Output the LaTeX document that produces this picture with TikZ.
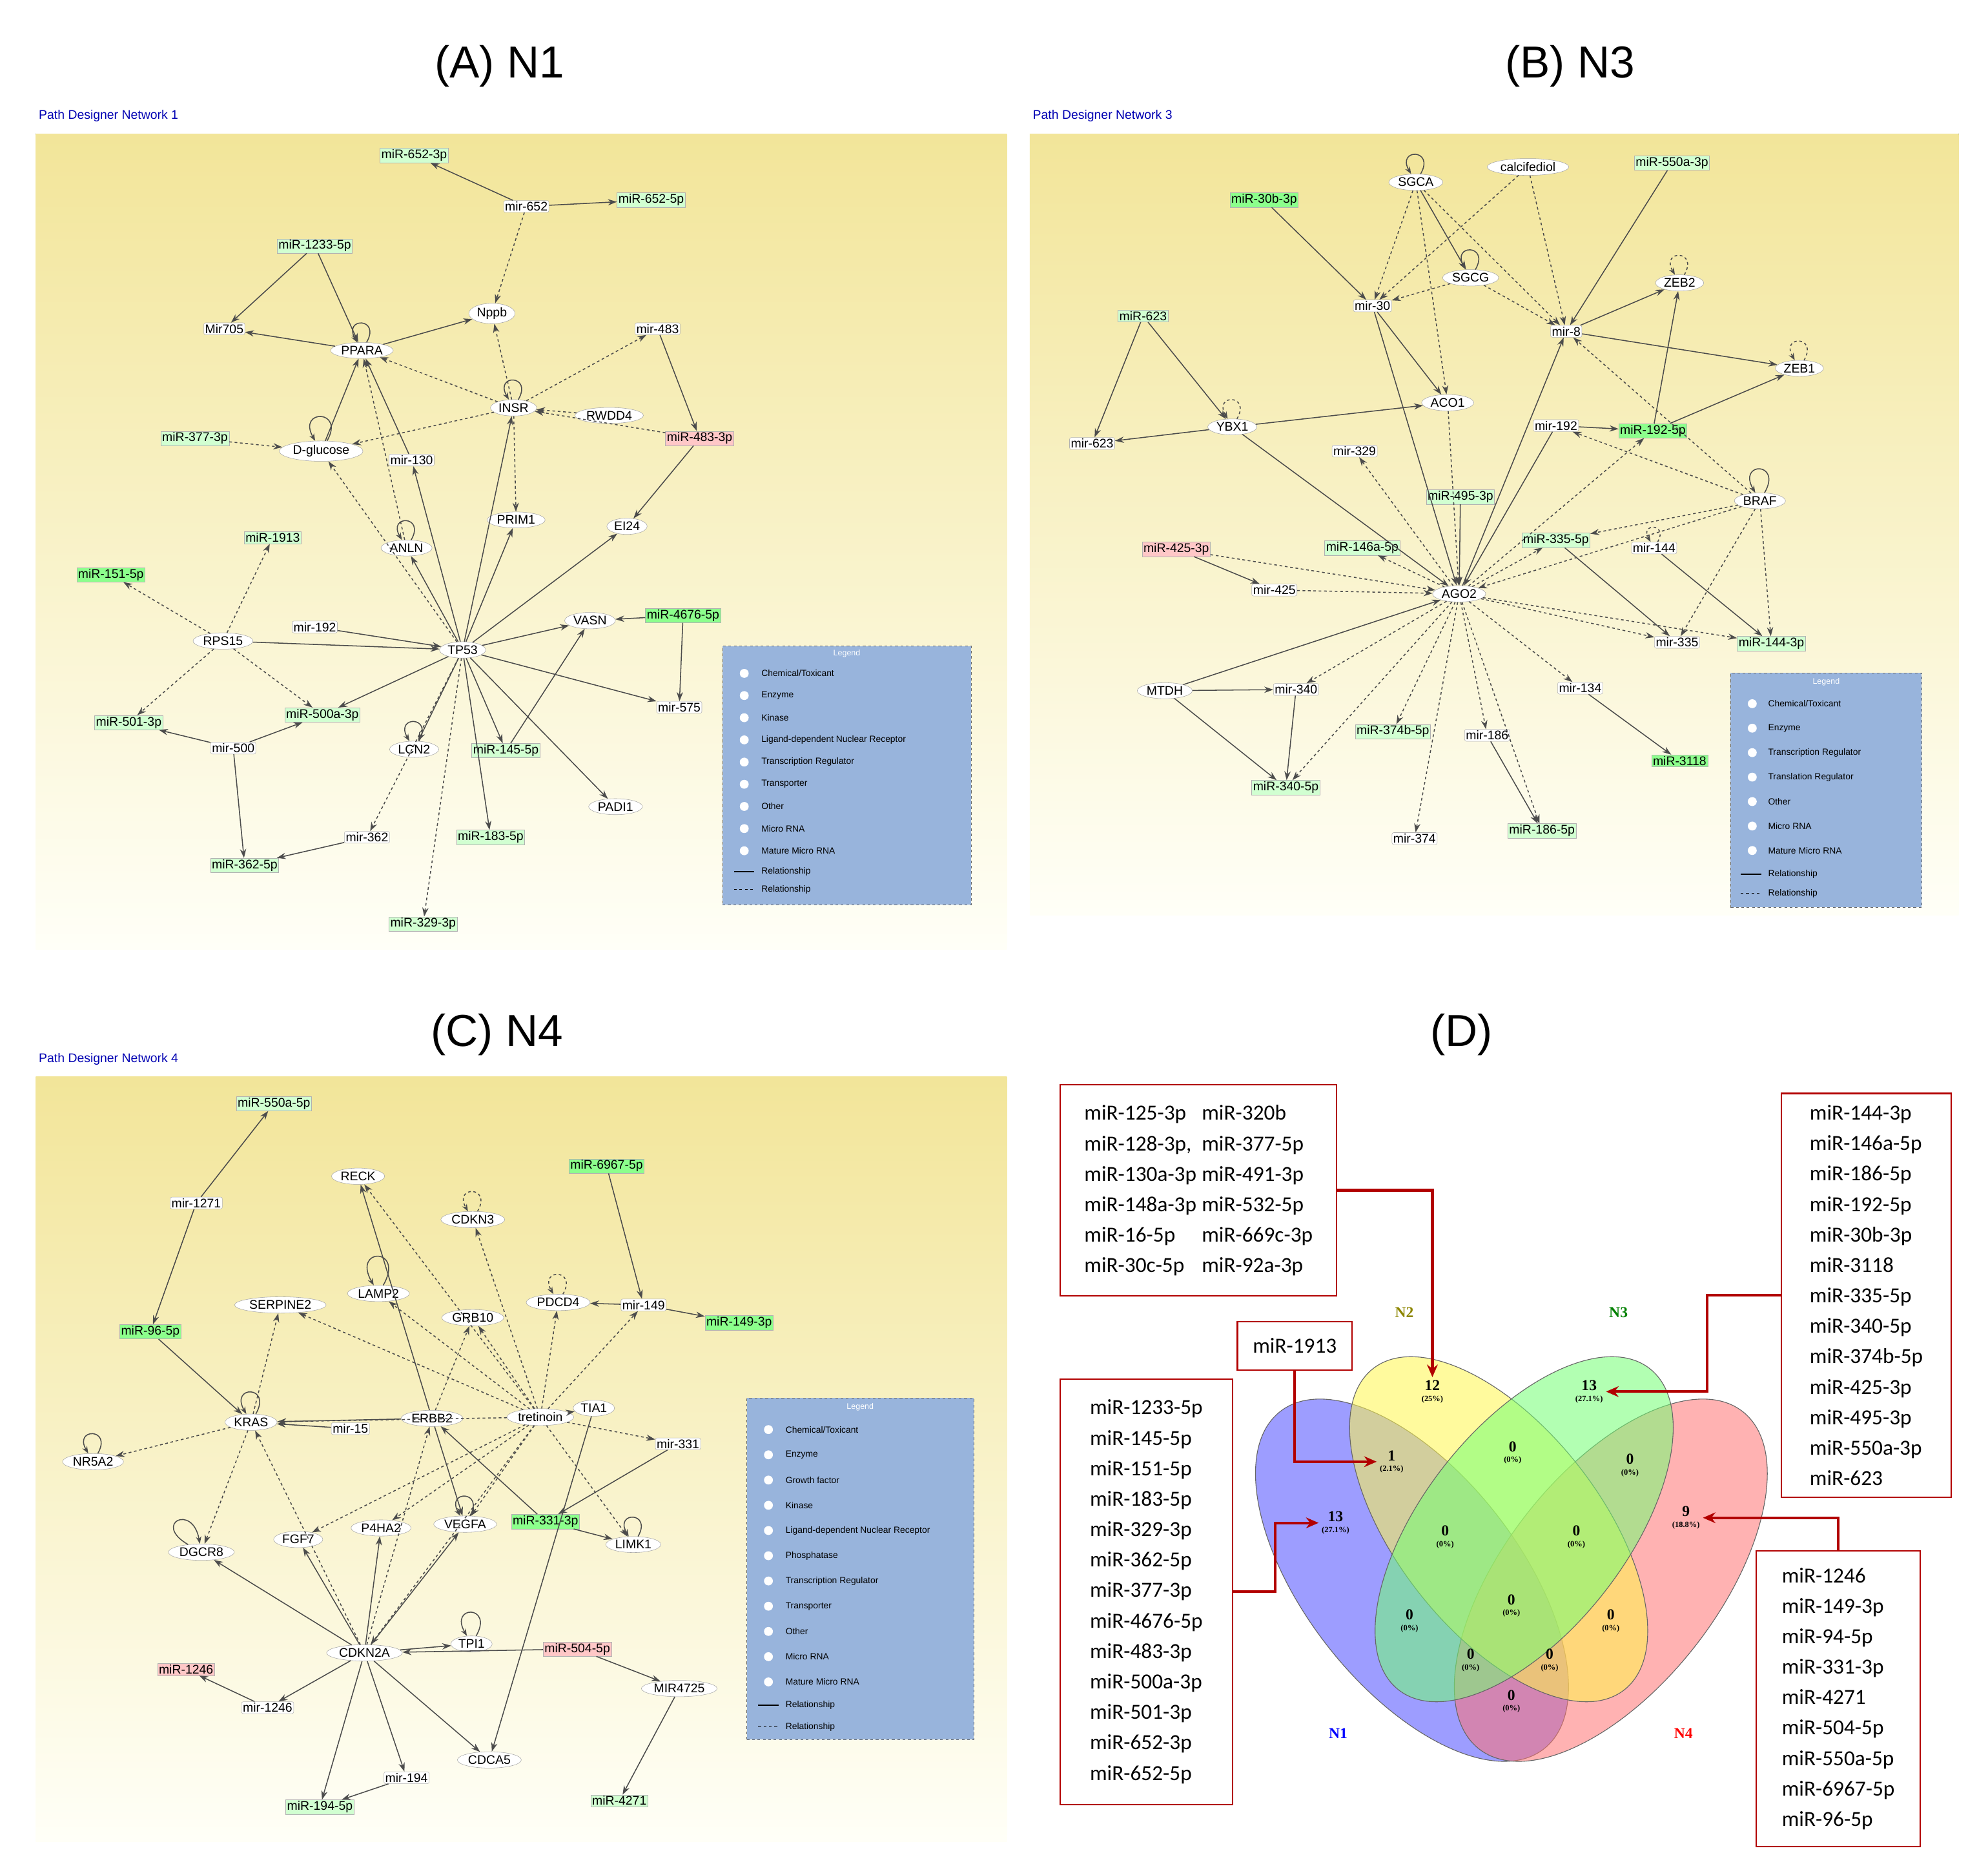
\documentclass[tikz,border=0pt]{standalone}
\usepackage{fontspec}
\setmainfont{Liberation Sans}
\newfontfamily\boxfont{Carlito}
\newfontfamily\vennfont{Liberation Serif}
\usetikzlibrary{shapes.geometric,arrows.meta}
\definecolor{legblue}{RGB}{152,180,220}
\newcommand{\lab}{\fontsize{14}{16}\selectfont}
\tikzset{
  prot/.style={ellipse, draw=gray!70, fill=white, inner sep=1.5pt, font=\lab},
  mir/.style={draw=gray!60, fill=white, rounded corners=2pt, inner sep=1.5pt, font=\lab},
  mat/.style={draw=gray!60, fill=green!45, inner sep=1.5pt, font=\lab},
  matl/.style={mat, fill=green!18},
  matp/.style={mat, fill=red!22},
  rel/.style={-{Stealth[length=10pt,width=7pt]}, draw=black!70, line width=1.1pt},
  drel/.style={rel, dashed},
  lp/.style={draw=black!70, line width=1.1pt, -{Stealth[length=8pt]}, loop, looseness=8, out=60, in=120},
  title/.style={font=\fontsize{50}{56}\selectfont},
  pdn/.style={font=\fontsize{14}{16}\selectfont, text=blue!70!black, anchor=west},
  panel/.style={shade, top color=yellow!55!brown!45, bottom color=yellow!3, draw=none},
  legbox/.style={fill=legblue, draw=black!60, dashed},
  leg/.style={font=\fontsize{10}{12}\selectfont, anchor=west},
  vbox/.style={draw=red!70!black, line width=1.5pt, fill=white, font=\boxfont\fontsize{24}{34}\selectfont, align=left},
  varr/.style={draw=red!70!black, line width=3pt, -{Stealth[length=14pt,width=12pt]}},
  vnum/.style={font=\vennfont\bfseries\fontsize{17}{14}\selectfont, align=center}
}
\newcommand{\pct}[1]{\\[-2pt]{\fontsize{9}{10}\selectfont(#1)}}
\begin{document}
\begin{tikzpicture}[x=0.5mm,y=-0.5mm]
\useasboundingbox (0,0) rectangle (1560,1471);
% panel backgrounds
\fill[panel] (28,105) rectangle (790,745);
\fill[panel] (808,105) rectangle (1537,718);
\fill[panel] (28,845) rectangle (790,1445);
\node[title] at (392,52) {(A) N1};
\node[title] at (1232,52) {(B) N3};
\node[title] at (390,812) {(C) N4};
\node[title] at (1147,812) {(D)};
\node[pdn] at (28,91) {Path Designer Network 1};
\node[pdn] at (808,91) {Path Designer Network 3};
\node[pdn] at (28,831) {Path Designer Network 4};

% ---------------- (A) N1
\node[matl] (a6523p) at (325,122) {miR-652-3p};
\node[mir]  (a652)   at (413,162) {mir-652};
\node[matl] (a6525p) at (511,157) {miR-652-5p};
\node[matl] (a1233)  at (247,193) {miR-1233-5p};
\node[mir]  (aMir705) at (176,258) {Mir705};
\node[prot] (aPPARA) at (284,275) {PPARA};
\node[prot] (aNppb)  at (386,246) {Nppb};
\node[mir]  (a483)   at (516,258) {mir-483};
\node[prot] (aINSR)  at (403,320) {INSR};
\node[prot] (aRWDD4) at (478,326) {RWDD4};
\node[matp] (a4833p) at (549,344) {miR-483-3p};
\node[matl] (a3773p) at (153,344) {miR-377-3p};
\node[prot] (aDglc)  at (252,354) {D-glucose};
\node[mir]  (a130)   at (323,361) {mir-130};
\node[prot] (aPRIM1) at (405,408) {PRIM1};
\node[prot] (aEI24)  at (492,413) {EI24};
\node[matl] (a1913)  at (214,422) {miR-1913};
\node[prot] (aANLN)  at (319,430) {ANLN};
\node[mat]  (a1515p) at (87,451) {miR-151-5p};
\node[prot] (aRPS15) at (175,503) {RPS15};
\node[mir]  (a192)   at (247,492) {mir-192};
\node[prot] (aTP53)  at (363,510) {TP53};
\node[prot] (aVASN)  at (463,487) {VASN};
\node[mat]  (a4676)  at (536,483) {miR-4676-5p};
\node[matl] (a5013p) at (101,567) {miR-501-3p};
\node[matl] (a500a)  at (253,561) {miR-500a-3p};
\node[mir]  (a500)   at (183,587) {mir-500};
\node[prot] (aLCN2)  at (325,588) {LCN2};
\node[matl] (a1455p) at (397,589) {miR-145-5p};
\node[mir]  (a575)   at (533,555) {mir-575};
\node[prot] (aPADI1) at (483,633) {PADI1};
\node[mir]  (a362)   at (288,657) {mir-362};
\node[matl] (a1835p) at (385,657) {miR-183-5p};
\node[matl] (a3625p) at (192,679) {miR-362-5p};
\node[matl] (a3293p) at (332,725) {miR-329-3p};

\path (a652) edge[rel] (a6523p) edge[rel] (a6525p) edge[drel] (aNppb)
      (a1233) edge[rel] (aMir705) edge[rel] (aPPARA)
      (aPPARA) edge[rel] (aMir705) edge[rel] (aNppb) edge[lp] (aPPARA)
      (aINSR) edge[drel] (aPPARA) edge[drel] (aNppb) edge[lp] (aINSR) edge[drel] (a483)
              edge[drel] (aPRIM1) edge[drel] (aDglc)
      (aRWDD4) edge[drel] (aINSR)
      (a483) edge[rel] (a4833p)
      (a4833p) edge[drel] (aINSR) edge[rel] (aEI24)
      (a3773p) edge[drel] (aDglc)
      (aDglc) edge[rel] (aPPARA) edge[lp] (aDglc)
      (a130) edge[rel] (aPPARA)
      (aANLN) edge[lp] (aANLN) edge[drel] (aPPARA)
      (aTP53) edge[drel] (aDglc) edge[rel] (a130) edge[rel] (aANLN) edge[rel] (aINSR)
              edge[rel] (aPRIM1) edge[rel] (aEI24) edge[rel] (aVASN) edge[rel] (a575)
              edge[rel] (aPADI1) edge[rel] (a1455p) edge[rel] (a1835p) edge[rel] (a500a)
              edge[drel] (a362) edge[drel] (a3293p) edge[rel] (aLCN2)
      (a192) edge[rel] (aTP53)
      (aRPS15) edge[rel] (aTP53) edge[drel] (a1913) edge[drel] (a1515p)
               edge[drel] (a5013p) edge[drel] (a500a)
      (a500) edge[rel] (a500a) edge[rel] (a5013p) edge[rel] (a3625p)
      (a362) edge[rel] (a3625p)
      (aLCN2) edge[lp] (aLCN2)
      (a4676) edge[rel] (aVASN) edge[rel] (a575)
      (a1455p) edge[rel] (aVASN);

\node[legbox, minimum width=97.5mm, minimum height=101.5mm] (legA) at (664.5,608.5) {};
\node[font=\fontsize{9}{10}\selectfont, text=white] at (664.5,513) {Legend};
\foreach \t [count=\i] in {Chemical/Toxicant, Enzyme, Kinase, Ligand-dependent Nuclear Receptor,
  Transcription Regulator, Transporter, Other, Micro RNA, Mature Micro RNA}
  { \node[leg] at (595,511+\i*17.4) {\t};
    \fill[white] (584,511+\i*17.4) circle (3.5); }
\node[leg] at (595,684) {Relationship}; \draw[line width=1pt] (576,684) -- (592,684);
\node[leg] at (595,698) {Relationship}; \draw[line width=1pt, dashed] (576,698) -- (592,698);

% ---------------- (B) N3
\node[prot] (bSGCA)  at (1111,143) {SGCA};
\node[prot] (bcalc)  at (1199,131) {calcifediol};
\node[matl] (b550a)  at (1312,128) {miR-550a-3p};
\node[mat]  (b30b)   at (992,157) {miR-30b-3p};
\node[prot] (bSGCG)  at (1154,218) {SGCG};
\node[prot] (bZEB2)  at (1318,222) {ZEB2};
\node[mir]  (b30)    at (1077,240) {mir-30};
\node[matl] (b623p)  at (897,248) {miR-623};
\node[mir]  (b8)     at (1229,260) {mir-8};
\node[prot] (bZEB1)  at (1412,289) {ZEB1};
\node[prot] (bACO1)  at (1136,316) {ACO1};
\node[prot] (bYBX1)  at (967,335) {YBX1};
\node[mir]  (b192)   at (1221,334) {mir-192};
\node[mat]  (b1925p) at (1297,338) {miR-192-5p};
\node[mir]  (b623)   at (857,348) {mir-623};
\node[mir]  (b329)   at (1063,354) {mir-329};
\node[matl] (b4953p) at (1146,390) {miR-495-3p};
\node[prot] (bBRAF)  at (1381,393) {BRAF};
\node[matl] (b146a)  at (1069,430) {miR-146a-5p};
\node[matl] (b3355p) at (1221,424) {miR-335-5p};
\node[mir]  (b144)   at (1298,430) {mir-144};
\node[matp] (b4253p) at (923,431) {miR-425-3p};
\node[mir]  (b425)   at (1000,463) {mir-425};
\node[prot] (bAGO2)  at (1145,466) {AGO2};
\node[mir]  (b335)   at (1316,504) {mir-335};
\node[matl] (b1443p) at (1390,505) {miR-144-3p};
\node[prot] (bMTDH)  at (914,542) {MTDH};
\node[mir]  (b340)   at (1017,541) {mir-340};
\node[mir]  (b134)   at (1240,540) {mir-134};
\node[matl] (b374b)  at (1093,574) {miR-374b-5p};
\node[mir]  (b186)   at (1167,577) {mir-186};
\node[mat]  (b3118)  at (1318,597) {miR-3118};
\node[matl] (b3405p) at (1009,618) {miR-340-5p};
\node[mir]  (b374)   at (1110,658) {mir-374};
\node[matl] (b1865p) at (1210,652) {miR-186-5p};

\path (b30b) edge[rel] (b30)
      (bSGCA) edge[lp] (bSGCA) edge[drel] (b30) edge[drel] (b8) edge[rel] (bSGCG) edge[drel] (bACO1)
      (bcalc) edge[drel] (b30) edge[drel] (b8)
      (bSGCG) edge[lp] (bSGCG) edge[drel] (b8) edge[drel] (b30)
      (b30) edge[rel] (bACO1) edge[rel] (bAGO2)
      (b550a) edge[rel] (b8)
      (b8) edge[rel] (bZEB2) edge[rel] (bZEB1)
      (bZEB2) edge[lp, dashed] (bZEB2)
      (bZEB1) edge[lp, dashed] (bZEB1)
      (b1925p) edge[rel] (bZEB2) edge[rel] (bZEB1)
      (b192) edge[rel] (b1925p) edge[rel] (bAGO2)
      (bBRAF) edge[lp, looseness=10] (bBRAF) edge[drel] (b8) edge[drel] (b192) edge[drel] (b3355p)
              edge[drel] (b1443p) edge[drel] (b335) edge[drel] (bAGO2)
      (bAGO2) edge[rel] (b8) edge[drel] (b329) edge[drel] (b146a) edge[drel] (b3355p)
              edge[drel] (b335) edge[drel] (b1443p) edge[drel] (b134) edge[drel] (b340)
              edge[drel] (b374b) edge[drel] (b374) edge[drel] (b186) edge[drel] (b1865p)
              edge[drel] (b3405p) edge[drel] (b1925p)
      (b623p) edge[rel] (b623) edge[rel] (bYBX1)
      (bYBX1) edge[lp, dashed] (bYBX1) edge[rel] (b623) edge[rel] (bACO1) edge[rel] (bAGO2)
      (bACO1) edge[drel] (bAGO2)
      (b4953p) edge[rel] (bAGO2)
      (b4253p) edge[rel] (b425) edge[drel] (bAGO2)
      (b425) edge[drel] (bAGO2)
      (b3355p) edge[rel] (b335)
      (b144) edge[lp, dashed] (b144) edge[rel] (b1443p)
      (b134) edge[rel] (b3118)
      (bMTDH) edge[rel] (bAGO2) edge[rel] (b340) edge[rel] (b3405p)
      (b340) edge[rel] (b3405p)
      (b186) edge[rel] (b1865p);

\node[legbox, minimum width=75mm, minimum height=92mm] (legB) at (1433,620) {};
\node[font=\fontsize{9}{10}\selectfont, text=white] at (1433,535) {Legend};
\foreach \t [count=\i] in {Chemical/Toxicant, Enzyme, Transcription Regulator, Translation Regulator,
  Other, Micro RNA, Mature Micro RNA}
  { \node[leg] at (1385,533+\i*19.2) {\t};
    \fill[white] (1375,533+\i*19.2) circle (3.5); }
\node[leg] at (1385,686) {Relationship}; \draw[line width=1pt] (1366,686) -- (1382,686);
\node[leg] at (1385,701) {Relationship}; \draw[line width=1pt, dashed] (1366,701) -- (1382,701);

% ---------------- (C) N4
\node[matl] (c550a)  at (215,866) {miR-550a-5p};
\node[mir]  (c1271)  at (154,944) {mir-1271};
\node[prot] (cRECK)  at (281,923) {RECK};
\node[prot] (cCDKN3) at (371,957) {CDKN3};
\node[mat]  (c6967)  at (476,915) {miR-6967-5p};
\node[prot] (cSERP)  at (220,1024) {SERPINE2};
\node[prot] (cLAMP2) at (297,1015) {LAMP2};
\node[prot] (cGRB10) at (371,1034) {GRB10};
\node[prot] (cPDCD4) at (438,1022) {PDCD4};
\node[mir]  (c149)   at (505,1024) {mir-149};
\node[mat]  (c1493p) at (580,1038) {miR-149-3p};
\node[mat]  (c965p)  at (118,1045) {miR-96-5p};
\node[prot] (cKRAS)  at (197,1116) {KRAS};
\node[mir]  (c15)    at (275,1121) {mir-15};
\node[prot] (cERBB2) at (339,1113) {ERBB2};
\node[prot] (ctret)  at (424,1112) {tretinoin};
\node[prot] (cTIA1)  at (466,1105) {TIA1};
\node[prot] (cNR5A2) at (73,1147) {NR5A2};
\node[mir]  (c331)   at (532,1133) {mir-331};
\node[prot] (cDGCR8) at (158,1218) {DGCR8};
\node[prot] (cFGF7)  at (234,1208) {FGF7};
\node[prot] (cP4HA2) at (299,1199) {P4HA2};
\node[prot] (cVEGFA) at (365,1196) {VEGFA};
\node[mat]  (c3313p) at (428,1194) {miR-331-3p};
\node[prot] (cLIMK1) at (497,1212) {LIMK1};
\node[prot] (cCDKN2A) at (286,1297) {CDKN2A};
\node[prot] (cTPI1)  at (370,1290) {TPI1};
\node[matp] (c5045p) at (453,1294) {miR-504-5p};
\node[matp] (c1246p) at (146,1310) {miR-1246};
\node[mir]  (c1246)  at (210,1340) {mir-1246};
\node[prot] (cMIR4725) at (533,1325) {MIR4725};
\node[prot] (cCDCA5) at (384,1381) {CDCA5};
\node[mir]  (c194)   at (319,1395) {mir-194};
\node[matl] (c1945p) at (251,1418) {miR-194-5p};
\node[matl] (c4271)  at (486,1413) {miR-4271};

\path (c1271) edge[rel] (c550a) edge[rel] (c965p)
      (c965p) edge[rel] (cKRAS)
      (cKRAS) edge[lp, looseness=9] (cKRAS) edge[drel] (cNR5A2) edge[drel] (cSERP) edge[drel] (cDGCR8)
      (cNR5A2) edge[lp] (cNR5A2)
      (cDGCR8) edge[lp, looseness=9, out=150, in=100] (cDGCR8)
      (c15) edge[rel] (cKRAS)
      (cERBB2) edge[rel] (cRECK) edge[rel] (cVEGFA) edge[rel] (cKRAS) edge[drel] (cGRB10)
      (ctret) edge[drel] (cRECK) edge[drel] (cCDKN3) edge[drel] (cPDCD4) edge[drel] (c149)
              edge[drel] (cSERP) edge[drel] (cGRB10) edge[drel] (cTIA1) edge[drel] (c331)
              edge[drel] (cFGF7) edge[drel] (cP4HA2) edge[drel] (cVEGFA) edge[drel] (cLIMK1)
              edge[drel] (cKRAS) edge[drel] (cCDKN2A) edge[drel] (cLAMP2)
      (cCDKN3) edge[lp, dashed] (cCDKN3)
      (cLAMP2) edge[lp, looseness=12] (cLAMP2)
      (cPDCD4) edge[lp, dashed] (cPDCD4)
      (c6967) edge[rel] (c149)
      (c149) edge[rel] (c1493p) edge[rel] (cPDCD4)
      (cVEGFA) edge[lp] (cVEGFA)
      (cTPI1) edge[lp, looseness=10] (cTPI1)
      (c331) edge[rel] (c3313p)
      (c3313p) edge[rel] (cERBB2) edge[rel] (cLIMK1)
      (cLIMK1) edge[lp] (cLIMK1)
      (cCDKN2A) edge[rel] (cDGCR8) edge[rel] (cP4HA2) edge[drel] (cERBB2) edge[rel] (cFGF7)
                edge[rel] (cVEGFA) edge[rel] (cTPI1) edge[rel] (cCDCA5) edge[rel] (c194)
                edge[rel] (c1945p) edge[rel] (c1246) edge[drel] (cKRAS)
      (c194) edge[rel] (c1945p)
      (c1246) edge[rel] (c1246p)
      (c5045p) edge[rel] (cCDKN2A) edge[rel] (cMIR4725)
      (cMIR4725) edge[rel] (c4271)
      (cTIA1) edge[rel] (cCDCA5);

\node[legbox, minimum width=89mm, minimum height=134mm] (legC) at (675,1231) {};
\node[font=\fontsize{9}{10}\selectfont, text=white] at (675,1104) {Legend};
\foreach \t [count=\i] in {Chemical/Toxicant, Enzyme, Growth factor, Kinase, Ligand-dependent Nuclear Receptor,
  Phosphatase, Transcription Regulator, Transporter, Other, Micro RNA, Mature Micro RNA}
  { \node[leg] at (614,1102+\i*19.8) {\t};
    \fill[white] (603,1102+\i*19.8) circle (3.5); }
\node[leg] at (614,1338) {Relationship}; \draw[line width=1pt] (595,1338) -- (611,1338);
\node[leg] at (614,1355) {Relationship}; \draw[line width=1pt, dashed] (595,1355) -- (611,1355);

% ---------------- (D) Venn
\begin{scope}[fill opacity=0.55, draw=black!60, line width=0.8pt]
\filldraw[fill=blue!70, rotate around={-52:(1108,1240)}] (1108,1240) ellipse (168 and 84);
\filldraw[fill=red!55, rotate around={52:(1264,1240)}] (1264,1240) ellipse (168 and 84);
\filldraw[fill=yellow!70, rotate around={-52:(1176,1200)}] (1176,1200) ellipse (160 and 80);
\filldraw[fill=green!55, rotate around={52:(1196,1200)}] (1196,1200) ellipse (160 and 80);
\end{scope}
\node[vnum] (v12) at (1124,1092) {12\pct{25\%}};
\node[vnum] (v13b) at (1247,1092) {13\pct{27.1\%}};
\node[vnum] (v1) at (1092,1147) {1\pct{2.1\%}};
\node[vnum] at (1187,1140) {0\pct{0\%}};
\node[vnum] at (1279,1150) {0\pct{0\%}};
\node[vnum] (v13a) at (1048,1195) {13\pct{27.1\%}};
\node[vnum] at (1134,1206) {0\pct{0\%}};
\node[vnum] at (1237,1206) {0\pct{0\%}};
\node[vnum] (v9) at (1323,1191) {9\pct{18.8\%}};
\node[vnum] at (1106,1272) {0\pct{0\%}};
\node[vnum] at (1186,1260) {0\pct{0\%}};
\node[vnum] at (1264,1272) {0\pct{0\%}};
\node[vnum] at (1154,1303) {0\pct{0\%}};
\node[vnum] at (1216,1303) {0\pct{0\%}};
\node[vnum] at (1186,1335) {0\pct{0\%}};
\node[vnum, text=blue] at (1050,1360) {N1};
\node[vnum, text=olive] at (1102,1030) {N2};
\node[vnum, text=green!50!black] at (1270,1030) {N3};
\node[vnum, text=red] at (1321,1360) {N4};

\node[vbox, minimum width=108.5mm, minimum height=83mm] (box2) at (940.5,934)
  {\begin{tabular}{@{}l@{\hspace{6pt}}l@{}}
   miR-125-3p & miR-320b\\ miR-128-3p, & miR-377-5p\\ miR-130a-3p & miR-491-3p\\
   miR-148a-3p & miR-532-5p\\ miR-16-5p & miR-669c-3p\\ miR-30c-5p & miR-92a-3p
   \end{tabular}};
\node[vbox, minimum width=45mm, minimum height=19mm] (box12) at (1016,1056) {miR-1913};
\node[vbox, minimum width=67.5mm, minimum height=167mm] (box1) at (899.5,1249)
  {miR-1233-5p\\ miR-145-5p\\ miR-151-5p\\ miR-183-5p\\ miR-329-3p\\ miR-362-5p\\ miR-377-3p\\
   miR-4676-5p\\ miR-483-3p\\ miR-500a-3p\\ miR-501-3p\\ miR-652-3p\\ miR-652-5p};
\node[vbox, minimum width=66.5mm, minimum height=158.5mm] (box3) at (1464.5,1016.5)
  {miR-144-3p\\ miR-146a-5p\\ miR-186-5p\\ miR-192-5p\\ miR-30b-3p\\ miR-3118\\ miR-335-5p\\
   miR-340-5p\\ miR-374b-5p\\ miR-425-3p\\ miR-495-3p\\ miR-550a-3p\\ miR-623};
\node[vbox, minimum width=64.5mm, minimum height=116mm] (box4) at (1442.5,1333)
  {miR-1246\\ miR-149-3p\\ miR-94-5p\\ miR-331-3p\\ miR-4271\\ miR-504-5p\\ miR-550a-5p\\
   miR-6967-5p\\ miR-96-5p};

\draw[varr] (box2.east) -| (v12.north);
\draw[varr] (box12.south) |- (v1.west);
\draw[varr] (box1.east) -- ++(33,0) |- (v13a.west);
\draw[varr] (box3.west) -- ++(-58,0) |- (v13b.east);
\draw[varr] (box4.north) |- (v9.east);
\end{tikzpicture}
\end{document}
